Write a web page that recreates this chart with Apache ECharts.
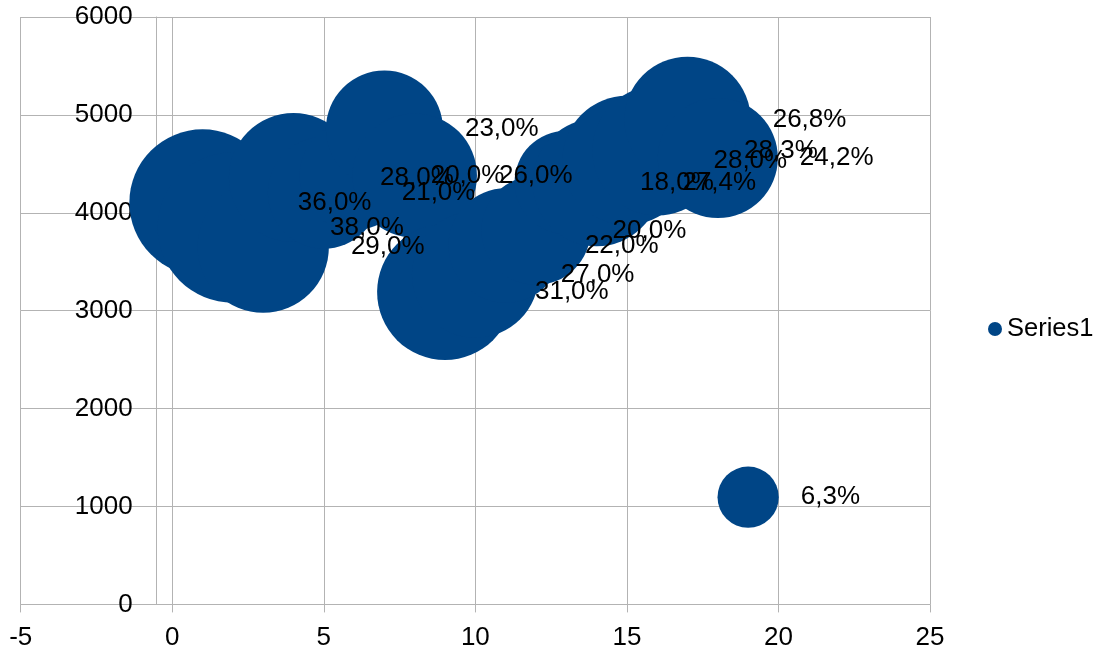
<!DOCTYPE html>
<html>
<head>
<meta charset="utf-8">
<script src="https://cdn.jsdelivr.net/npm/echarts@6/dist/echarts.min.js"></script>
<style>
  html, body { margin: 0; padding: 0; background: #fff; }
  #chart { width: 1104px; height: 653px; }
</style>
</head>
<body>
<div id="chart"></div>
<script>
// Data
const xValues = [1, 2, 3, 4, 5, 6, 7, 8, 9, 10, 11, 12, 13, 14, 15, 16, 17, 18, 19];
const yValues = [4105, 3850, 3650, 4360, 4205, 4380, 4855, 4380, 3190, 3370, 3665, 3820, 4310, 4310, 4535, 4635, 4950, 4560, 1095];
const shares  = [36.0, 38.0, 29.0, 28.0, 21.0, 20.0, 23.0, 26.0, 31.0, 27.0, 22.0, 20.0, 18.0, 27.4, 28.0, 28.3, 26.8, 24.2, 6.3];
const seriesName = 'Series1';
const xTicks = [-5, 25, 5];   // min, max, interval
const yTicks = [0, 6000, 1000];

const points = xValues.map((x, i) => [x, yValues[i], shares[i]]);

const FONT = '"Liberation Sans", Arial, sans-serif';
const GRID_COLOR = '#b3b3b3';

const chart = echarts.init(document.getElementById('chart'), null, { renderer: 'canvas' });
chart.setOption({
  animation: false,
  backgroundColor: '#ffffff',
  textStyle: { fontFamily: FONT, color: '#000' },
  grid: { left: 20.7, right: 174, top: 17, bottom: 48.6, containLabel: false },
  legend: {
    orient: 'vertical',
    left: 983,
    top: 311,
    itemWidth: 14,
    itemHeight: 14,
    icon: 'circle',
    textStyle: { fontFamily: FONT, fontSize: 25.5, color: '#000' },
    data: [seriesName]
  },
  xAxis: {
    type: 'value',
    min: xTicks[0], max: xTicks[1], interval: xTicks[2],
    axisLine: { show: true, onZero: false, lineStyle: { color: GRID_COLOR, width: 1 } },
    axisTick: { show: true, inside: false, length: 8, lineStyle: { color: GRID_COLOR } },
    axisLabel: { margin: 20, fontFamily: FONT, fontSize: 26, color: '#000', formatter: v => String(v) },
    splitLine: { show: true, lineStyle: { color: GRID_COLOR, width: 1 } }
  },
  yAxis: {
    type: 'value',
    min: yTicks[0], max: yTicks[1], interval: yTicks[2],
    position: 'left',
    offset: -136,
    axisLine: { show: true, onZero: false, lineStyle: { color: GRID_COLOR, width: 1 } },
    axisTick: { show: false },
    axisLabel: { margin: 24, fontFamily: FONT, fontSize: 26, color: '#000', formatter: v => String(v) },
    splitLine: { show: true, lineStyle: { color: GRID_COLOR, width: 1 } }
  },
  series: [{
    name: seriesName,
    type: 'scatter',
    data: points,
    symbol: 'circle',
    symbolSize: function (v) { return 24.4 * Math.sqrt(v[2]); },
    itemStyle: { color: '#004586', opacity: 1 },
    label: {
      show: true,
      position: 'right',
      distance: 22,
      offset: [0, 5.5],
      fontFamily: FONT,
      fontSize: 26,
      color: '#000',
      formatter: function (p) { return p.value[2].toFixed(1).replace('.', ',') + '%'; }
    },
    emphasis: { disabled: true },
    labelLayout: { hideOverlap: false }
  }]
});
</script>
</body>
</html>
